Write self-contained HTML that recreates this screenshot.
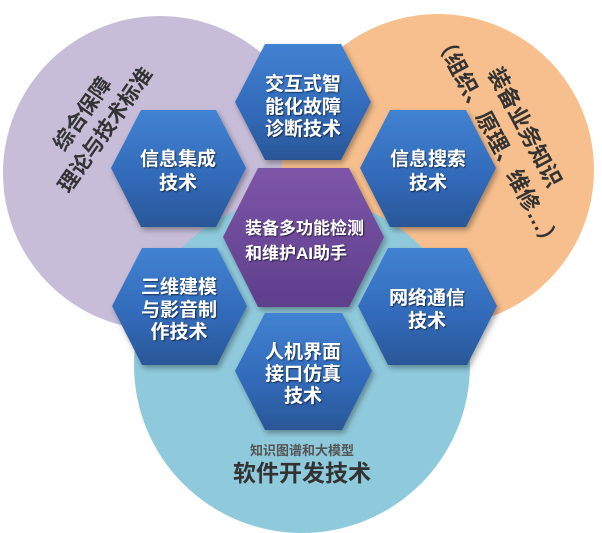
<!DOCTYPE html>
<html><head><meta charset="utf-8"><style>
html,body{margin:0;padding:0;background:#fff;width:602px;height:533px;overflow:hidden}
svg{display:block}
.t{font-family:"Liberation Sans","Noto Sans CJK SC",sans-serif;font-weight:bold;fill:#fff;text-anchor:middle}
.d{font-family:"Liberation Sans","Noto Sans CJK SC",sans-serif;font-weight:bold;fill:#333;text-anchor:middle}
</style></head><body>
<svg width="602" height="533" viewBox="0 0 602 533" xmlns="http://www.w3.org/2000/svg">
<defs>
<linearGradient id="b" x1="0" y1="0" x2="0" y2="1"><stop offset="0" stop-color="#4282d2"/><stop offset="0.6" stop-color="#3169b8"/><stop offset="1" stop-color="#2a5797"/></linearGradient>
<linearGradient id="p" x1="0" y1="0" x2="0" y2="1"><stop offset="0" stop-color="#7d55a8"/><stop offset="1" stop-color="#5e3f8c"/></linearGradient>
<filter id="s" x="-20%" y="-20%" width="140%" height="140%"><feDropShadow dx="2" dy="3" stdDeviation="3" flood-color="#000" flood-opacity="0.35"/></filter>
<filter id="ts"><feDropShadow dx="1" dy="1" stdDeviation="0.8" flood-color="#000" flood-opacity="0.6"/></filter>
</defs>
<circle cx="160" cy="173" r="157" fill="#c7bdd9"/>
<circle cx="438" cy="170" r="156" fill="#f7bf8d"/>
<circle cx="302" cy="365" r="168" fill="#8fcadc"/>
<g filter="url(#s)">
<polygon points="265,44 341,44 371,102 341,160 265,160 235,102" fill="url(#b)"/>
<polygon points="141,110 216,110 246,168 216,227 141,227 111,168" fill="url(#b)"/>
<polygon points="390,110 466,110 496,168 466,227 390,227 360,168" fill="url(#b)"/>
<polygon points="142,248 217,248 247,306 217,365 142,365 112,306" fill="url(#b)"/>
<polygon points="388,248 467,248 497,306 467,365 388,365 358,306" fill="url(#b)"/>
<polygon points="265,313 342,313 372,371 342,430 265,430 235,371" fill="url(#b)"/>
<polygon points="258,168 349,168 384,237 349,307 258,307 223,237" fill="url(#p)"/>
</g>
<g class="t" font-size="19" filter="url(#ts)">
<text x="303" y="90">交互式智</text><text x="303" y="113">能化故障</text><text x="303" y="135">诊断技术</text>
<text x="178" y="165">信息集成</text><text x="178" y="189">技术</text>
<text x="428" y="165">信息搜索</text><text x="428" y="189">技术</text>
<text x="179" y="293">三维建模</text><text x="179" y="316">与影音制</text><text x="179" y="338">作技术</text>
<text x="427" y="304">网络通信</text><text x="427" y="327">技术</text>
<text x="303" y="358">人机界面</text><text x="303" y="380">接口仿真</text><text x="303" y="402">技术</text>
</g>
<g class="t" font-size="17" style="text-anchor:start" filter="url(#ts)">
<text x="245" y="234">装备多功能检测</text><text x="245" y="259">和维护AI助手</text>
</g>
<g transform="translate(94,122) rotate(-55)">
<text class="d" font-size="21" x="0" y="-7">综合保障</text>
<text class="d" font-size="21" x="0" y="21">理论与技术标准</text>
</g>
<g transform="translate(510,135) rotate(62)">
<text class="d" font-size="22" x="0" y="-9">装备业务知识</text>
<text class="d" font-size="22" x="0" y="22">（组织、原理、维修…）</text>
</g>
<text class="d" font-size="13" x="302" y="455" style="fill:#555">知识图谱和大模型</text>
<text class="d" font-size="23" x="302" y="481">软件开发技术</text>
</svg>
</body></html>
